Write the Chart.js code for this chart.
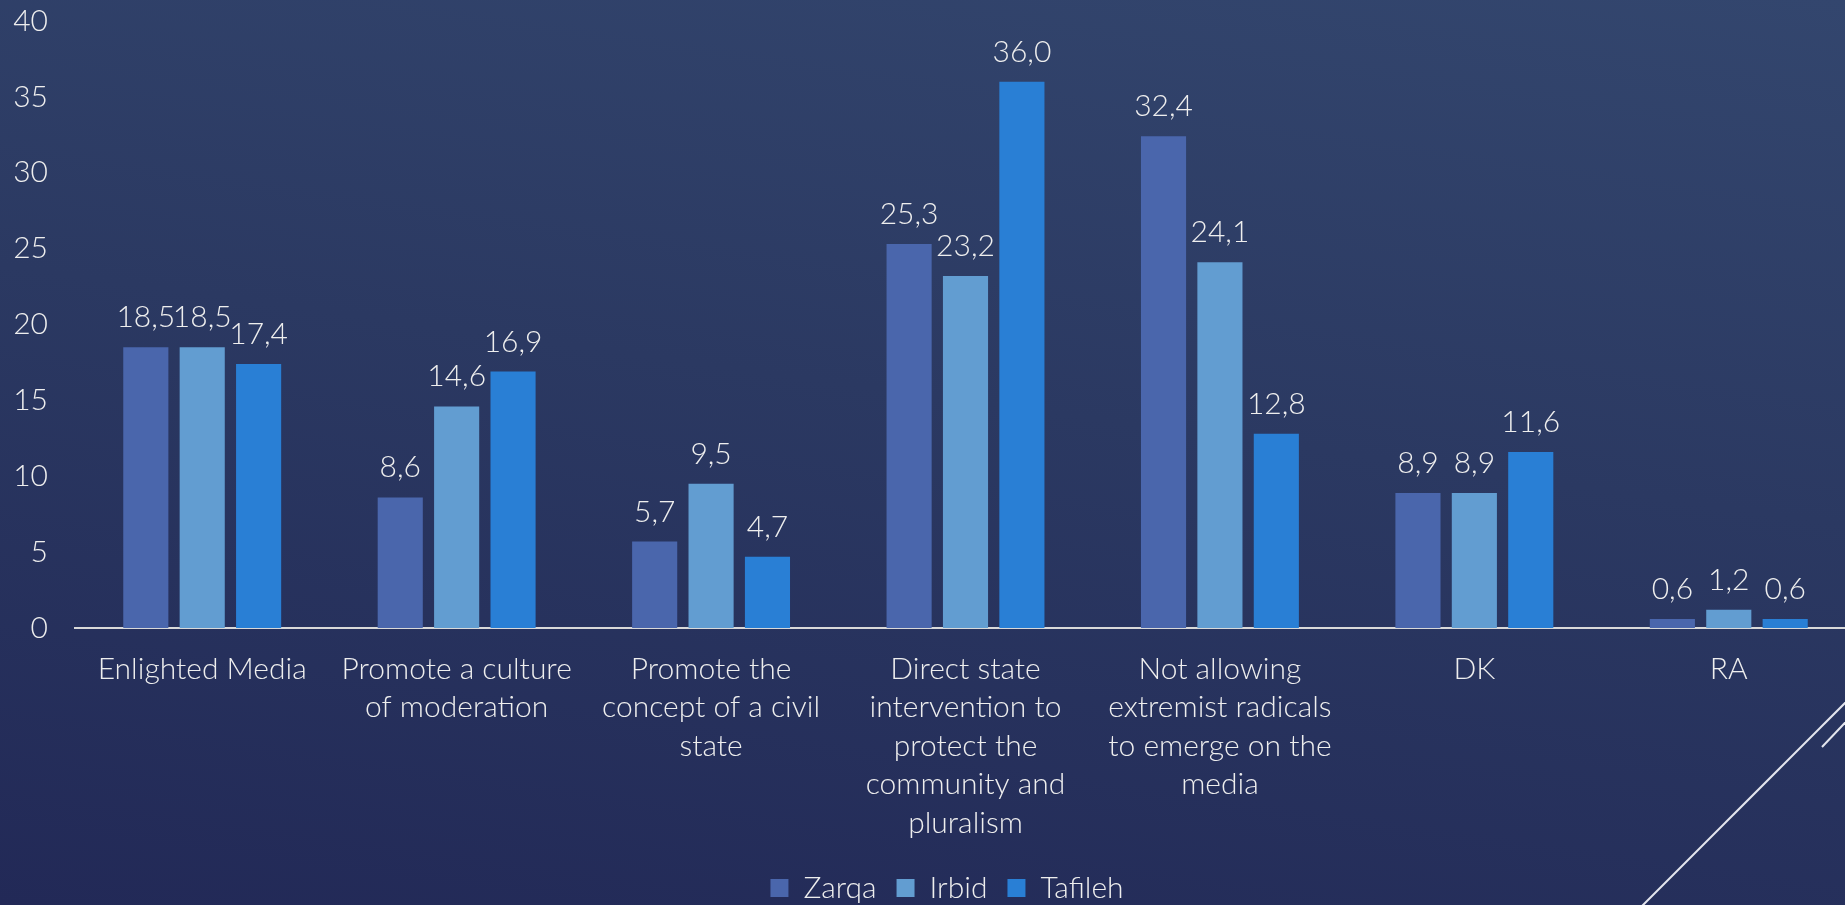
<!DOCTYPE html>
<html>
<head>
<meta charset="utf-8">
<script src="https://cdn.jsdelivr.net/npm/chart.js@4.4.1/dist/chart.umd.min.js"></script>
<style>
  html, body { margin: 0; padding: 0; width: 1845px; height: 905px; overflow: hidden; }
  body { background: linear-gradient(188deg, #33466e 0%, #2b3962 45%, #222957 100%); position: relative; }
  #wrap { position: absolute; left: 0; top: 0; width: 1856px; height: 913px; }
  svg.deco { position: absolute; left: 0; top: 0; pointer-events: none; }
</style>
</head>
<body>
<div id="wrap"><canvas id="c" width="1856" height="913"></canvas></div>
<svg class="deco" width="1845" height="905">
  <line x1="1860" y1="688" x2="1640" y2="908" stroke="#e4e6ee" stroke-width="2"/>
  <line x1="1860" y1="707" x2="1822" y2="747" stroke="#e4e6ee" stroke-width="2"/>
</svg>
<script>
const categories = [
  ["Enlighted Media"],
  ["Promote a culture", "of moderation"],
  ["Promote the", "concept of a civil", "state"],
  ["Direct state", "intervention to", "protect the", "community and", "pluralism"],
  ["Not allowing", "extremist radicals", "to emerge on the", "media"],
  ["DK"],
  ["RA"]
];
const seriesNames = ["Zarqa", "Irbid", "Tafileh"];
const zarqa   = [18.5, 8.6, 5.7, 25.3, 32.4, 8.9, 0.6];
const irbid   = [18.5, 14.6, 9.5, 23.2, 24.1, 8.9, 1.2];
const tafileh = [17.4, 16.9, 4.7, 36.0, 12.8, 11.6, 0.6];
const yMin = 0, yMax = 40, yStep = 5;

const colors = ["#4a66ac", "#629dd1", "#297fd5"];
const textColor = "#eeeeee";
const FONT = "Lato, 'Open Sans', sans-serif";
const FSIZE = 30;
const FWEIGHT = 300;

const valueLabels = {
  id: 'valueLabels',
  afterDatasetsDraw(chart) {
    const ctx = chart.ctx;
    ctx.save();
    ctx.font = FWEIGHT + " " + FSIZE + "px " + FONT;
    ctx.fillStyle = textColor;
    ctx.textAlign = 'center';
    ctx.textBaseline = 'alphabetic';
    chart.data.datasets.forEach((ds, i) => {
      const meta = chart.getDatasetMeta(i);
      meta.data.forEach((el, j) => {
        const v = ds.data[j];
        ctx.fillText(v.toFixed(1).replace('.', ','), el.x, el.y - 20);
      });
    });
    ctx.restore();
  }
};

const legendShift = {
  id: 'legendShift',
  afterLayout(chart) {
    const lg = chart.legend;
    if (lg) { lg.left += 19; lg.right += 19; }
  }
};

new Chart(document.getElementById('c'), {
  type: 'bar',
  data: {
    labels: categories,
    datasets: [
      { label: seriesNames[0], data: zarqa, backgroundColor: colors[0] },
      { label: seriesNames[1], data: irbid, backgroundColor: colors[1] },
      { label: seriesNames[2], data: tafileh, backgroundColor: colors[2] }
    ]
  },
  options: {
    responsive: false,
    animation: false,
    devicePixelRatio: 1,
    datasets: { bar: { categoryPercentage: 0.665, barPercentage: 0.80 } },
    layout: { padding: { top: 21, left: 0, right: 0, bottom: 0 } },
    scales: {
      x: {
        grid: { display: false, drawTicks: false },
        border: { display: true, color: '#d9d9d9', width: 2 },
        ticks: {
          color: textColor,
          font: { family: FONT, size: FSIZE, weight: FWEIGHT, lineHeight: 38.5 / FSIZE },
          padding: 22,
          maxRotation: 0,
          autoSkip: false
        },
        afterFit(scale) { scale.height = 225; scale.paddingLeft = 0; scale.paddingRight = 0; }
      },
      y: {
        min: yMin, max: yMax,
        grid: { display: false, drawTicks: false },
        border: { display: false },
        ticks: {
          stepSize: yStep,
          color: textColor,
          font: { family: FONT, size: FSIZE, weight: FWEIGHT },
          padding: 27
        },
        afterFit(scale) { scale.width = 75; scale.paddingTop = 15; scale.paddingBottom = 15; }
      }
    },
    plugins: {
      legend: {
        position: 'bottom',
        labels: {
          color: textColor,
          font: { family: FONT, size: FSIZE, weight: FWEIGHT },
          boxWidth: 18,
          boxHeight: 18,
          padding: 20
        }
      },
      tooltip: { enabled: false }
    }
  },
  plugins: [valueLabels, legendShift]
});
</script>
</body>
</html>
